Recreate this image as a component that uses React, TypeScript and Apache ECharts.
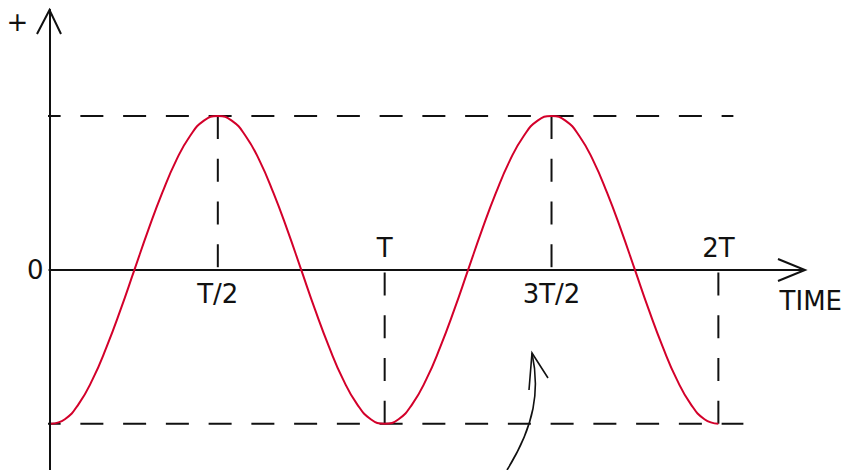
import React, { useEffect, useRef } from "react";
import * as echarts from "echarts";

// time in units of the period T (steps of T/24)
const timeValues = [
  0, 0.0417, 0.0833, 0.125, 0.1667, 0.2083, 0.25, 0.2917, 0.3333, 0.375, 0.4167, 0.4583,
  0.5, 0.5417, 0.5833, 0.625, 0.6667, 0.7083, 0.75, 0.7917, 0.8333, 0.875, 0.9167, 0.9583,
  1, 1.0417, 1.0833, 1.125, 1.1667, 1.2083, 1.25, 1.2917, 1.3333, 1.375, 1.4167, 1.4583,
  1.5, 1.5417, 1.5833, 1.625, 1.6667, 1.7083, 1.75, 1.7917, 1.8333, 1.875, 1.9167, 1.9583, 2,
];
// displacement (peak = 1)
const waveValues = [
  -1, -0.97, -0.87, -0.71, -0.5, -0.26, 0, 0.26, 0.5, 0.71, 0.87, 0.97,
  1, 0.97, 0.87, 0.71, 0.5, 0.26, 0, -0.26, -0.5, -0.71, -0.87, -0.97,
  -1, -0.97, -0.87, -0.71, -0.5, -0.26, 0, 0.26, 0.5, 0.71, 0.87, 0.97,
  1, 0.97, 0.87, 0.71, 0.5, 0.26, 0, -0.26, -0.5, -0.71, -0.87, -0.97, -1,
];

// tick labels on the time axis
const tickValues = [0.5, 1, 1.5, 2];
const tickLabels = ["T/2", "T", "3T/2", "2T"];
const tickSides = ["bottom", "top", "bottom", "top"];

// dashed horizontal levels (peak and trough)
const levelValues = [1, -1];
const levelStarts = [-0.04, -0.04];
const levelEnds = [2.045, 2.075];

// dashed vertical guides from the extreme to the axis
const guideTimes = [0.5, 1, 1.5, 2];
const guideFrom = [1, -1, 1, -1];
const guideTo = [0, 0, 0, 0];

const originLabel = "0";
const yAxisName = "+";
const xAxisName = "TIME";

const INK = "#111111";
const RED = "#d3002a";
const FONT = "DejaVu Sans";
const FS = 26;

export default function App() {
  const ref = useRef<HTMLDivElement>(null);

  useEffect(() => {
    if (!ref.current) return;
    const chart = echarts.init(ref.current, null, { renderer: "svg" });

    const dash = [23, 19.75];
    const series: any[] = [];

    levelValues.forEach((v, i) => {
      series.push({
        type: "line",
        data: [
          [levelStarts[i], v],
          [levelEnds[i], v],
        ],
        symbol: "none",
        clip: false,
        silent: true,
        lineStyle: { color: INK, width: 2, type: dash },
        z: 1,
      });
    });

    guideTimes.forEach((t, i) => {
      series.push({
        type: "line",
        data: [
          [t, guideFrom[i]],
          [t, guideTo[i]],
        ],
        symbol: "none",
        clip: false,
        silent: true,
        lineStyle: { color: INK, width: 2, type: dash },
        z: 1,
      });
    });

    series.push({
      type: "line",
      data: timeValues.map((t, i) => [t, waveValues[i]]),
      symbol: "none",
      smooth: 0.5,
      clip: false,
      silent: true,
      lineStyle: { color: RED, width: 2 },
      z: 3,
    });

    series.push({
      type: "scatter",
      symbol: "circle",
      symbolSize: 1,
      silent: true,
      clip: false,
      itemStyle: { color: "#ffffff", opacity: 0 },
      data: [
        ...tickValues.map((v, i) => ({
          value: [v, 0],
          name: tickLabels[i],
          label: { position: tickSides[i], distance: tickSides[i] === "top" ? 8 : 11 },
        })),
        { value: [0, 0], name: originLabel, label: { position: "left", distance: 7 } },
      ],
      label: {
        show: true,
        formatter: "{b}",
        fontFamily: FONT,
        fontSize: FS,
        color: INK,
        opacity: 1,
      },
      z: 4,
    });

    const option: any = {
      animation: false,
      backgroundColor: "#ffffff",
      grid: { left: 49.3, right: 40.25, top: 9.75, bottom: 0, containLabel: false },
      xAxis: {
        type: "value",
        min: -0.005,
        max: 2.25,
        axisLine: { show: true, onZero: true, lineStyle: { color: INK, width: 2 } },
        axisTick: { show: false },
        axisLabel: { show: false },
        splitLine: { show: false },
        name: xAxisName,
        nameLocation: "end",
        nameGap: 9,
        nameTextStyle: {
          align: "center",
          verticalAlign: "top",
          padding: [18, 0, 0, 0],
          fontFamily: FONT,
          fontSize: FS,
          color: INK,
        },
      },
      yAxis: {
        type: "value",
        min: -1.3,
        max: 1.69,
        axisLine: { show: true, onZero: false, lineStyle: { color: INK, width: 2 } },
        axisTick: { show: false },
        axisLabel: { show: false },
        splitLine: { show: false },
        name: yAxisName,
        nameLocation: "end",
        nameGap: -12,
        nameTextStyle: {
          align: "right",
          verticalAlign: "middle",
          padding: [0, 21, 0, 0],
          fontFamily: FONT,
          fontSize: FS,
          color: INK,
        },
      },
      graphic: [
        {
          type: "polyline",
          shape: { points: [[37, 34], [49.5, 10], [61, 34]] },
          style: { stroke: INK, lineWidth: 2, fill: "none" },
          silent: true,
        },
        {
          type: "polyline",
          shape: { points: [[778, 259], [805, 270], [778, 281]] },
          style: { stroke: INK, lineWidth: 2, fill: "none" },
          silent: true,
        },
        {
          type: "bezierCurve",
          shape: { x1: 507, y1: 470, cpx1: 535, cpy1: 425, cpx2: 540, cpy2: 390, x2: 532, y2: 353 },
          style: { stroke: INK, lineWidth: 1.6, fill: "none" },
          silent: true,
        },
        {
          type: "polyline",
          shape: { points: [[529, 390], [532, 353], [548, 378]] },
          style: { stroke: INK, lineWidth: 1.6, fill: "none" },
          silent: true,
        },
      ],
      series,
    };

    chart.setOption(option);
    return () => chart.dispose();
  }, []);

  return (
    <div
      ref={ref}
      style={{ position: "fixed", left: 0, top: 0, width: 845, height: 470, background: "#fff" }}
    />
  );
}
